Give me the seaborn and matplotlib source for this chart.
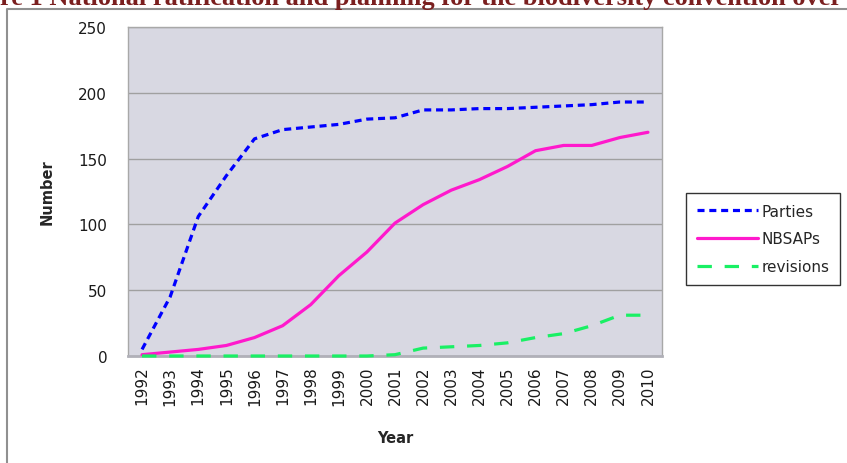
import numpy as np
import pandas as pd
import matplotlib
matplotlib.use("Agg")
import matplotlib.pyplot as plt
from matplotlib.lines import Line2D
import seaborn as sns

years = [str(y) for y in range(1992, 2011)]
parties = [5, 45, 106, 137, 165, 172, 174, 176, 180, 181, 187, 187, 188, 188, 189, 190, 191, 193, 193]
nbsaps = [1, 3, 5, 8, 14, 23, 39, 61, 79, 101, 115, 126, 134, 144, 156, 160, 160, 166, 170]
revisions = [0, 0, 0, 0, 0, 0, 0, 0, 0, 1, 6, 7, 8, 10, 14, 17, 23, 31, 31]

df = pd.DataFrame({"pos": np.arange(len(years)), "Year": years,
                   "Parties": parties, "NBSAPs": nbsaps, "revisions": revisions})

sns.set_style("white")
plt.rcParams["font.family"] = ["DejaVu Sans"]

fig = plt.figure(figsize=(8.47, 4.64), dpi=100)
ax = fig.add_axes([128/847, 1-357/464, 534/847, 329/464])
ax.set_facecolor("#d8d8e2")

sns.lineplot(data=df, x="pos", y="Parties", ax=ax, color="#0000ff", lw=2.3,
             label="Parties")
sns.lineplot(data=df, x="pos", y="NBSAPs", ax=ax, color="#ff19cc", lw=2.3,
             label="NBSAPs")
sns.lineplot(data=df, x="pos", y="revisions", ax=ax, color="#19f064", lw=2.3,
             label="revisions")
ax.lines[0].set_dashes([2.2, 1.5])
ax.lines[2].set_dashes([4.5, 4.0])
for ln in ax.lines:
    ln.set_zorder(5)
    ln.set_clip_on(False)

ax.set_xlim(-0.5, len(years) - 0.5)
ax.set_ylim(0, 250)
ax.set_yticks(range(0, 251, 50))
ax.set_xticks(df["pos"])
ax.set_xticklabels(years, rotation=90)
ax.tick_params(axis="both", labelsize=11, length=0, colors="#1a1a1a", pad=7)
ax.tick_params(axis="y", pad=15)
ax.yaxis.grid(True, color="#a0a0a0", lw=1)
ax.set_axisbelow(True)
for s in ax.spines.values():
    s.set_color("#a8a8a8")
    s.set_linewidth(1)
ax.spines["bottom"].set_color("#b0b0b8")
ax.spines["bottom"].set_linewidth(2)

ax.set_xlabel("Year", fontsize=10.5, fontweight="bold", labelpad=18)
ax.set_ylabel("Number", fontsize=10.5, fontweight="bold", labelpad=17)

leg = ax.legend(loc="center left", bbox_to_anchor=(686/847, 1-240/464),
                bbox_transform=fig.transFigure, frameon=True, fancybox=False,
                fontsize=11, handlelength=4.0, handletextpad=0.25,
                labelspacing=0.85, borderpad=0.7, borderaxespad=0)
leg.get_frame().set_edgecolor("black")
leg.get_frame().set_linewidth(1)

# outer frame of the embedded chart
fig.add_artist(Line2D([7/847, 7/847, 1], [0, 1-10/464, 1-10/464],
                      transform=fig.transFigure, color="#909090", lw=1.5))

# title partly cut off at the top of the picture
fig.text(0, 1-5/464, "re 1 National ratification and planning for the biodiversity convention over",
         family="Liberation Serif", fontweight="bold", fontsize=19,
         color="#7a1f1f", ha="left", va="baseline")

fig.savefig("out.png", dpi=100)
